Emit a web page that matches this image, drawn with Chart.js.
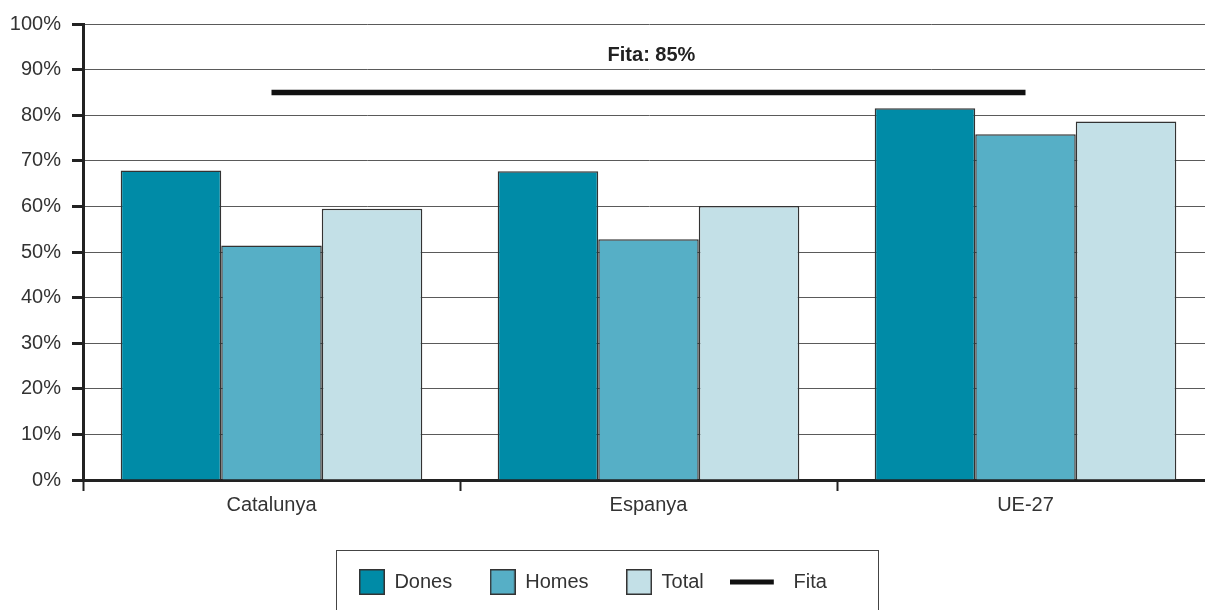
<!DOCTYPE html>
<html><head><meta charset="utf-8">
<script src="https://cdn.jsdelivr.net/npm/chart.js@4.4.1/dist/chart.umd.min.js"></script>
<style>html,body{margin:0;padding:0;overflow:hidden;background:#fff;width:1205px;height:610px}canvas{display:block}</style>
</head><body><canvas id="c" width="1214" height="640"></canvas>
<script>
const categories = ['Catalunya', 'Espanya', 'UE-27'];
const dones = [67.9, 67.7, 81.5];
const homes = [51.4, 52.8, 75.8];
const total = [59.5, 60.1, 78.6];
const fita = [85, 85, 85];
const seriesNames = ['Dones', 'Homes', 'Total', 'Fita'];

const FONT = '"Liberation Sans", Arial, sans-serif';
const colors = ['#008ba7', '#56afc6', '#c3e0e7'];

function squareImg(color) {
  const c = document.createElement('canvas'); c.width = 26; c.height = 26;
  const g = c.getContext('2d');
  g.fillStyle = color; g.fillRect(0, 0, 26, 26);
  g.strokeStyle = '#333'; g.lineWidth = 1.5; g.strokeRect(0.75, 0.75, 24.5, 24.5);
  return c;
}
function lineImg() {
  const c = document.createElement('canvas'); c.width = 49; c.height = 6;
  const g = c.getContext('2d');
  g.fillStyle = '#111'; g.fillRect(0, 0.5, 44, 5);
  return c;
}
const legendImgs = [squareImg(colors[0]), squareImg(colors[1]), squareImg(colors[2]), lineImg()];

const extras = {
  id: 'extras',
  afterDraw(chart) {
    const ctx = chart.ctx;
    const meta = chart.getDatasetMeta(3);
    const p0 = meta.data[0], p2 = meta.data[meta.data.length - 1];
    ctx.save();
    ctx.font = 'bold 20px ' + FONT;
    ctx.fillStyle = '#222';
    ctx.textAlign = 'center';
    ctx.textBaseline = 'middle';
    ctx.fillText('Fita: ' + fita[0] + '%', (p0.x + p2.x) / 2 + 3, p0.y - 37);
    const hb = chart.legend.legendHitBoxes;
    if (hb && hb.length) {
      const left = hb[0].left - 23, top = hb[0].top - 22;
      ctx.strokeStyle = '#444'; ctx.lineWidth = 1;
      ctx.strokeRect(Math.round(left) + 0.5, Math.round(top) + 0.5, 542, 70);
    }
    ctx.restore();
  }
};

new Chart(document.getElementById('c'), {
  type: 'bar',
  data: {
    labels: categories,
    datasets: [
      { label: seriesNames[0], data: dones, backgroundColor: colors[0], borderColor: '#333', borderWidth: 1.5, order: 1 },
      { label: seriesNames[1], data: homes, backgroundColor: colors[1], borderColor: '#333', borderWidth: 1.5, order: 1 },
      { label: seriesNames[2], data: total, backgroundColor: colors[2], borderColor: '#333', borderWidth: 1.5, order: 1 },
      { type: 'line', label: seriesNames[3], data: fita, borderColor: '#111', borderWidth: 5.5, pointRadius: 0, fill: false, order: 0 }
    ]
  },
  options: {
    responsive: false,
    animation: false,
    devicePixelRatio: 1,
    layout: { padding: { top: 24, left: 0, right: 0, bottom: 38 } },
    datasets: { bar: { categoryPercentage: 0.8, barPercentage: 1.0 } },
    plugins: {
      tooltip: { enabled: false },
      legend: {
        position: 'bottom',
        labels: {
          usePointStyle: true,
          pointStyleWidth: 25,
          padding: 38,
          color: '#333',
          font: { size: 20, family: FONT },
          generateLabels(chart) {
            return chart.data.datasets.map((ds, i) => ({
              text: i === 3 ? '   ' + ds.label + '     ' : ds.label,
              pointStyle: legendImgs[i],
              fillStyle: 'transparent',
              strokeStyle: 'transparent',
              lineWidth: 0,
              hidden: false,
              datasetIndex: i,
              fontColor: '#333'
            }));
          }
        }
      }
    },
    scales: {
      x: {
        afterFit(s) { s.height = 54; },
        grid: { display: true, drawOnChartArea: false, offset: true, tickLength: 11, tickColor: '#222', tickWidth: 2 },
        border: { color: '#222', width: 3 },
        ticks: { color: '#333', padding: 2, font: { size: 20, family: FONT } }
      },
      y: {
        min: 0, max: 100,
        afterFit(s) { s.width = 83; },
        grid: { color: '#5a5a5a', lineWidth: 1, tickLength: 11, tickColor: '#222', tickWidth: 3 },
        border: { color: '#222', width: 3 },
        ticks: { stepSize: 10, padding: 11, color: '#333', font: { size: 20, family: FONT }, callback: v => v + '%' }
      }
    }
  },
  plugins: [extras]
});
</script>
</body></html>
